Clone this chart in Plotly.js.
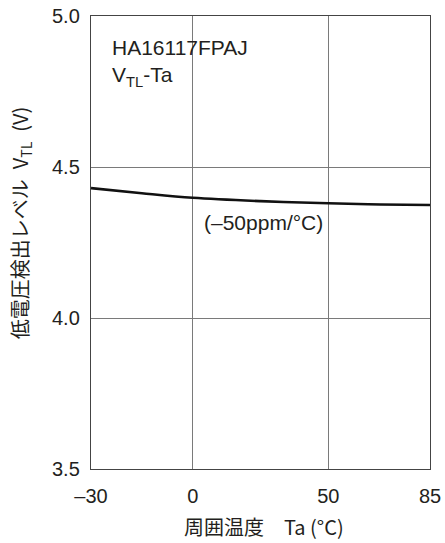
<!DOCTYPE html>
<html>
<head>
<meta charset="utf-8">
<script src="https://cdn.plot.ly/plotly-3.0.1.min.js"></script>
<style>html,body{margin:0;padding:0;background:#fff;}#chart{width:445px;height:543px;}</style>
</head>
<body>
<div id="chart"></div>
<script>
// Data
var ta  = [-30, -15, 0, 25, 50, 68, 85];
var vtl = [4.430, 4.413, 4.398, 4.387, 4.380, 4.376, 4.374];
var xTickTemps = [-30, 0, 50, 85];
var xTickLabels = ['\u201330', '0', '50', '85'];
var yTickVals = [3.5, 4.0, 4.5, 5.0];
var yTickLabels = ['3.5', '4.0', '4.5', '5.0'];

// The reference's temperature axis is not uniform: anchor each tick to an axis position
var xAxisAnchors = [0, 30, 70, 100];
function tempToAxis(t) {
  for (var i = 0; i < xTickTemps.length - 1; i++) {
    var a = xTickTemps[i], b = xTickTemps[i + 1];
    if (t <= b || i === xTickTemps.length - 2) {
      return xAxisAnchors[i] + (t - a) / (b - a) * (xAxisAnchors[i + 1] - xAxisAnchors[i]);
    }
  }
}

var FONT = 'Liberation Sans, Arial, Noto Sans CJK JP, sans-serif';
var CJK = 'Noto Sans CJK JP, Liberation Sans, sans-serif';
var TXT = '#231f20';

var trace = {
  x: ta.map(tempToAxis),
  y: vtl,
  mode: 'lines',
  line: {color: '#111', width: 2.6, shape: 'spline', smoothing: 1},
  hoverinfo: 'skip',
  showlegend: false
};

var layout = {
  width: 445, height: 543,
  margin: {l: 91, r: 15, t: 16, b: 74},
  paper_bgcolor: '#fff', plot_bgcolor: '#fff',
  font: {family: FONT, color: TXT, size: 20},
  xaxis: {
    range: [xAxisAnchors[0], xAxisAnchors[xAxisAnchors.length - 1]],
    tickvals: xTickTemps.map(tempToAxis), ticktext: xTickLabels,
    showgrid: true, gridcolor: '#7a7a7a', gridwidth: 1,
    showline: true, linecolor: '#444', linewidth: 1.2, mirror: true,
    ticks: '', ticklabelstandoff: 9, zeroline: false,
    tickfont: {family: FONT, size: 20, color: TXT}
  },
  yaxis: {
    range: [3.5, 5.0],
    tickvals: yTickVals, ticktext: yTickLabels,
    showgrid: true, gridcolor: '#7a7a7a', gridwidth: 1,
    showline: true, linecolor: '#444', linewidth: 1.2, mirror: true,
    ticks: '', ticklabelstandoff: 6, zeroline: false,
    tickfont: {family: FONT, size: 20, color: TXT}
  },
  annotations: [
    {text: 'HA16117FPAJ<br>V<sub>TL</sub>-Ta', xref: 'paper', yref: 'paper',
     x: 0.055, y: 0.96, xanchor: 'left', yanchor: 'top', align: 'left', showarrow: false,
     font: {family: FONT, size: 21, color: TXT}},
    {text: '(\u201350ppm/\u00b0C)', xref: 'paper', yref: 'paper',
     x: 0.328, y: 0.545, xanchor: 'left', yanchor: 'middle', showarrow: false,
     font: {family: FONT, size: 21, color: TXT}},
    {text: '周囲温度\u3000Ta (\u00b0C)', xref: 'paper', yref: 'paper',
     x: 0.51, y: -0.128, xanchor: 'center', yanchor: 'middle', showarrow: false,
     font: {family: CJK, size: 20, color: TXT}},
    {text: '低電圧検出レベル\u2002V<sub>TL</sub>\u2002(V)', xref: 'paper', yref: 'paper',
     x: -0.209, y: 0.543, xanchor: 'center', yanchor: 'middle', textangle: -90, showarrow: false,
     font: {family: CJK, size: 20, color: TXT}}
  ]
};

Plotly.newPlot('chart', [trace], layout, {staticPlot: true, displayModeBar: false});
</script>
</body>
</html>
